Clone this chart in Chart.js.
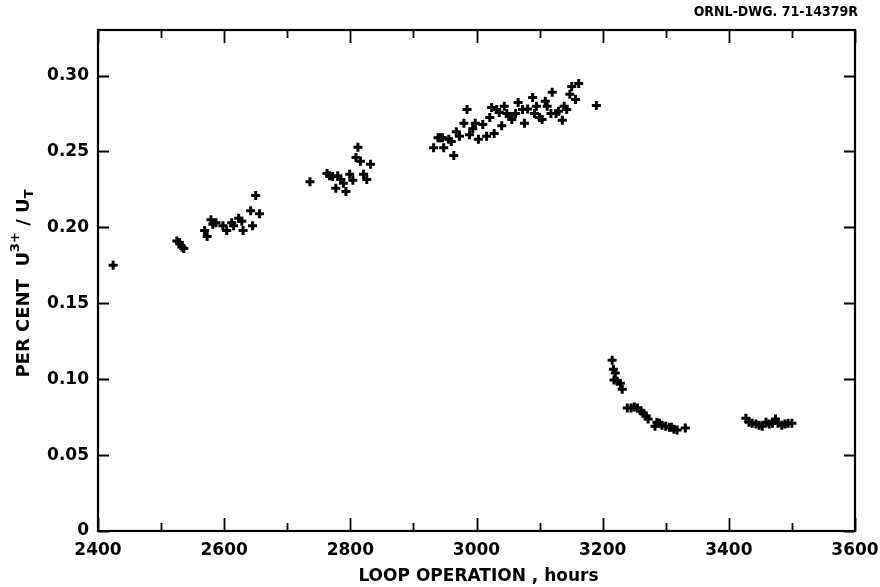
<!DOCTYPE html>
<html><head><meta charset="utf-8">
<script src="https://cdn.jsdelivr.net/npm/chart.js@4/dist/chart.umd.min.js"></script>
<style>html,body{margin:0;padding:0;background:#fff}#wrap{width:880px;height:587px;position:relative}</style>
</head><body><div id="wrap"><canvas id="c" width="880" height="587"></canvas></div>
<script>
// Data (hours, per cent U3+/UT)
const hoursA = [2424, 2525, 2529, 2533, 2536, 2569, 2573, 2579, 2582, 2587, 2598, 2604, 2612, 2615, 2623, 2628, 2630, 2642, 2645, 2650, 2656];
const valuesA = [0.175, 0.191, 0.190, 0.187, 0.186, 0.198, 0.194, 0.205, 0.202, 0.203, 0.201, 0.198, 0.203, 0.201, 0.206, 0.204, 0.198, 0.211, 0.201, 0.221, 0.209];
const hoursB = [2736, 2763, 2767, 2772, 2777, 2780, 2785, 2789, 2793, 2799, 2804, 2809, 2812, 2816, 2821, 2826, 2832];
const valuesB = [0.230, 0.2355, 0.234, 0.2335, 0.2257, 0.234, 0.2316, 0.229, 0.2237, 0.235, 0.231, 0.246, 0.2527, 0.2435, 0.235, 0.2316, 0.2415];
const hoursC = [2932, 2939, 2943, 2946, 2948, 2956, 2960, 2964, 2968, 2973, 2980, 2985, 2989, 2994, 2998, 3003, 3010, 3016, 3021, 3024, 3028, 3032, 3036, 3040, 3044, 3048, 3052, 3056, 3062, 3066, 3073, 3076, 3081, 3089, 3092, 3095, 3100, 3104, 3109, 3112, 3118, 3120, 3126, 3130, 3136, 3139, 3143, 3148, 3151, 3157, 3162, 3190];
const valuesC = [0.2525, 0.259, 0.259, 0.259, 0.2525, 0.258, 0.2566, 0.2474, 0.263, 0.260, 0.2685, 0.2777, 0.261, 0.265, 0.2685, 0.258, 0.2678, 0.260, 0.2724, 0.279, 0.2619, 0.2777, 0.2757, 0.267, 0.2797, 0.275, 0.273, 0.271, 0.275, 0.2823, 0.2777, 0.2685, 0.278, 0.2856, 0.275, 0.2797, 0.2724, 0.271, 0.283, 0.2797, 0.275, 0.289, 0.275, 0.2764, 0.2705, 0.2797, 0.2777, 0.2876, 0.2928, 0.2843, 0.2948, 0.2803];
const hoursD = [3215, 3217, 3220, 3218, 3223, 3228, 3231, 3239, 3245, 3250, 3255, 3261, 3264, 3269, 3272, 3283, 3286, 3290, 3294, 3300, 3306, 3309, 3313, 3318, 3331];
const valuesD = [0.1125, 0.1066, 0.104, 0.0994, 0.0987, 0.0974, 0.0934, 0.081, 0.081, 0.0816, 0.081, 0.079, 0.0776, 0.0757, 0.0737, 0.069, 0.0717, 0.071, 0.0697, 0.069, 0.0684, 0.0684, 0.0671, 0.0665, 0.0678];
const hoursE = [3427, 3432, 3437, 3443, 3448, 3453, 3459, 3464, 3469, 3474, 3478, 3484, 3489, 3494, 3500];
const valuesE = [0.0743, 0.0717, 0.071, 0.0704, 0.0697, 0.069, 0.0717, 0.0704, 0.071, 0.0737, 0.071, 0.0697, 0.0704, 0.071, 0.071];
const xTickLabels = ['2400', '2600', '2800', '3000', '3200', '3400', '3600'];
const yTickLabels = ['0', '0.05', '0.10', '0.15', '0.20', '0.25', '0.30'];
const drawingNumber = 'ORNL-DWG. 71-14379R';
const xTitle = 'LOOP OPERATION , hours';

function pts(h, v) { return h.map((x, i) => ({ x: x, y: v[i] })); }
const allPoints = [].concat(pts(hoursA, valuesA), pts(hoursB, valuesB), pts(hoursC, valuesC), pts(hoursD, valuesD), pts(hoursE, valuesE));

const FONT = '"DejaVu Sans", sans-serif';

const decor = {
  id: 'decor',
  afterDraw(chart) {
    const ctx = chart.ctx, a = chart.chartArea;
    const xs = chart.scales.x, ys = chart.scales.y;
    ctx.save();
    ctx.strokeStyle = '#000';
    ctx.lineWidth = 2.2;
    ctx.strokeRect(a.left, a.top, a.right - a.left, a.bottom - a.top);
    ctx.lineWidth = 1.8;
    // x ticks (every 100 h), inward, bottom and top
    for (let v = xs.min; v <= xs.max + 0.01; v += 100) {
      const px = Math.round(xs.getPixelForValue(v)) + 0.5;
      const major = Math.round(v) % 200 === 0;
      const len = major ? 13 : 8;
      ctx.beginPath();
      ctx.moveTo(px, a.bottom); ctx.lineTo(px, a.bottom - len);
      ctx.moveTo(px, a.top); ctx.lineTo(px, a.top + len);
      ctx.stroke();
    }
    // y ticks (every 0.01), inward, left and right
    ys.ticks.forEach(t => {
      const py = Math.round(ys.getPixelForValue(t.value)) + 0.5;
      const major = Math.round(t.value * 100) % 5 === 0;
      const len = major ? 11 : 6;
      ctx.beginPath();
      ctx.moveTo(a.left, py); ctx.lineTo(a.left + len, py);
      ctx.moveTo(a.right, py); ctx.lineTo(a.right - len, py);
      ctx.stroke();
    });
    // drawing number
    ctx.fillStyle = '#000';
    ctx.font = 'bold 14px "DejaVu Sans Condensed", "DejaVu Sans", sans-serif';
    ctx.textAlign = 'right';
    ctx.textBaseline = 'middle';
    ctx.fillText(drawingNumber, a.right + 3, 12);
    // x title
    ctx.font = 'bold 17px ' + FONT;
    ctx.textAlign = 'center';
    ctx.fillText(xTitle, (a.left + a.right) / 2 + 2, 577);
    // y title with superscript / subscript
    ctx.translate(24, (a.top + a.bottom) / 2 + 3);
    ctx.rotate(-Math.PI / 2);
    const big = 'bold 18px ' + FONT, small = 'bold 13px ' + FONT;
    const parts = [
      { t: 'PER CENT  U', f: big, dy: 0 },
      { t: '3+', f: small, dy: -8 },
      { t: ' / U', f: big, dy: 0 },
      { t: 'T', f: small, dy: 6 }
    ];
    let w = 0;
    parts.forEach(p => { ctx.font = p.f; p.w = ctx.measureText(p.t).width; w += p.w; });
    let x = -w / 2;
    ctx.textAlign = 'left';
    parts.forEach(p => { ctx.font = p.f; ctx.fillText(p.t, x, p.dy); x += p.w; });
    ctx.restore();
  }
};

new Chart(document.getElementById('c'), {
  type: 'scatter',
  data: {
    datasets: [{
      data: allPoints,
      pointStyle: 'cross',
      pointRadius: 4.5,
      pointBorderWidth: 3,
      borderColor: '#000',
      backgroundColor: '#000',
      pointHoverRadius: 4.5
    }]
  },
  options: {
    responsive: false,
    animation: false,
    layout: { padding: { top: 30, right: 0, left: 0, bottom: 0 } },
    plugins: { legend: { display: false }, tooltip: { enabled: false } },
    scales: {
      x: {
        type: 'linear', min: 2400, max: 3600,
        border: { display: false },
        grid: { display: false, drawTicks: false },
        ticks: {
          stepSize: 200, padding: 9, color: '#000',
          font: { family: FONT, size: 17, weight: 'bold' },
          maxRotation: 0,
          callback: (v) => { const i = Math.round((v - 2400) / 200); return xTickLabels[i]; }
        },
        afterFit: (s) => { s.height = 56; s.paddingRight = 25; }
      },
      y: {
        type: 'linear', min: 0, max: 0.33,
        border: { display: false },
        grid: { display: false, drawTicks: false },
        ticks: {
          stepSize: 0.01, padding: 9, color: '#000', autoSkip: false,
          font: { family: FONT, size: 17, weight: 'bold' },
          callback: (v) => { const k = Math.round(v * 100); return k % 5 === 0 ? yTickLabels[k / 5] : null; }
        },
        afterFit: (s) => { s.width = 98; }
      }
    }
  },
  plugins: [decor]
});
</script></body></html>
